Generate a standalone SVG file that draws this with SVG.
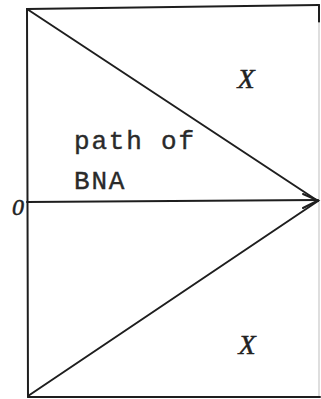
<svg xmlns="http://www.w3.org/2000/svg" width="321" height="399" viewBox="0 0 321 399">
<style>
.ln{stroke:#1e1e1e;stroke-width:2;fill:none;stroke-linecap:round}
.lt{stroke:#c8c8c8;stroke-width:1.2;fill:none}
.it{font-family:"Liberation Serif",serif;font-style:italic;fill:#222;stroke:#222;stroke-width:0.5}
.tx{font-family:"Liberation Mono",monospace;fill:#2a2a2a;stroke:#2a2a2a;stroke-width:0.4;font-size:26px;letter-spacing:1.8px}
</style>
<rect width="321" height="399" fill="#fff"/>
<g id="frame">
<line class="ln" x1="27" y1="9" x2="319" y2="5"/>
<line class="ln" x1="27" y1="9" x2="28" y2="397"/>
<line class="ln" x1="28" y1="397" x2="320" y2="397"/>
<line class="ln" x1="319" y1="5" x2="319" y2="22"/>
<line class="lt" x1="319" y1="22" x2="319" y2="396"/>
</g>
<g id="connectors">
<line class="ln" x1="27" y1="9" x2="318" y2="201"/>
<line class="ln" x1="28" y1="396" x2="318" y2="201"/>
<line class="ln" x1="27" y1="202" x2="318" y2="200"/>
<polyline class="ln" points="303,194 318,200.5 303,208"/>
</g>
<g id="labels">
<text class="it" x="246" y="88" font-size="28" text-anchor="middle">X</text>
<text class="it" x="247" y="354" font-size="28" text-anchor="middle">X</text>
<text class="it" x="18" y="215" font-size="24" text-anchor="middle">0</text>
<text class="tx" x="74" y="149">path of</text>
<text class="tx" x="74" y="189">BNA</text>
</g>
</svg>
